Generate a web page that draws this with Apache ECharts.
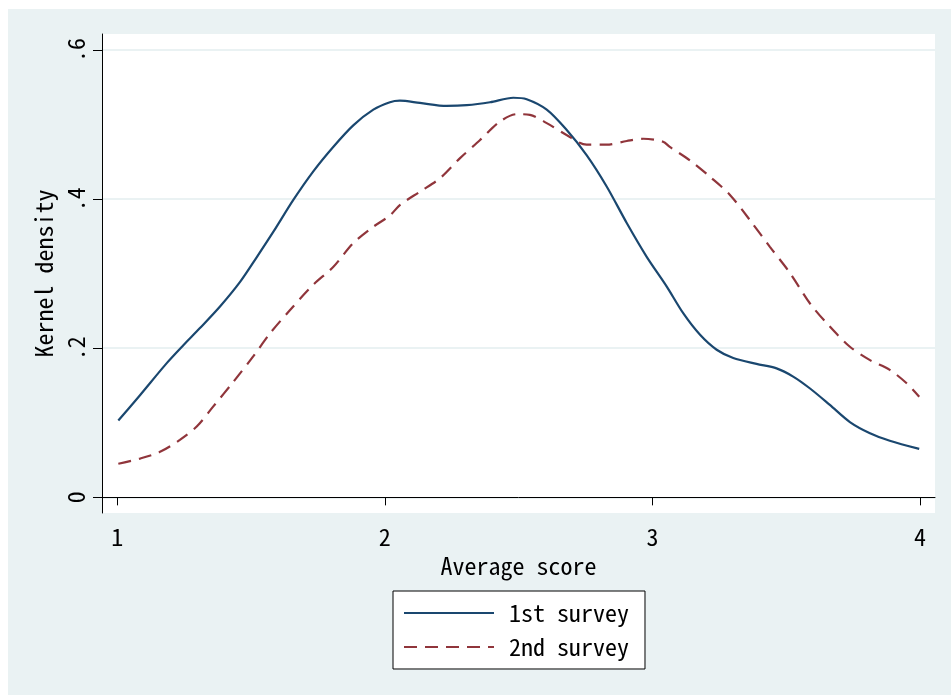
<!DOCTYPE html>
<html>
<head>
<meta charset="utf-8">
<script src="https://cdn.jsdelivr.net/npm/echarts@6/dist/echarts.min.js"></script>
<style>
html,body{margin:0;padding:0;background:#fff;}
#c{width:951px;height:695px;}
</style>
</head>
<body>
<div id="c"></div>
<script>
// Average score positions (x) and kernel density values (y)
var survey1X = [1.004,1.085,1.185,1.247,1.309,1.384,1.459,1.521,1.583,1.658,1.732,1.807,1.882,1.957,2.019,2.056,2.131,2.231,2.306,2.393,2.480,2.530,2.605,2.679,2.754,2.829,2.904,2.978,3.053,3.115,3.178,3.240,3.302,3.389,3.464,3.526,3.589,3.663,3.738,3.813,3.887,3.997];
var survey1Y = [0.103,0.137,0.180,0.204,0.227,0.256,0.289,0.322,0.356,0.399,0.437,0.470,0.499,0.520,0.530,0.532,0.529,0.525,0.526,0.530,0.536,0.534,0.520,0.493,0.459,0.417,0.368,0.323,0.283,0.247,0.218,0.198,0.187,0.179,0.173,0.162,0.146,0.124,0.101,0.086,0.076,0.065];
var survey2X = [1.004,1.085,1.160,1.234,1.297,1.359,1.434,1.508,1.571,1.645,1.732,1.807,1.882,1.957,2.019,2.056,2.131,2.206,2.281,2.355,2.430,2.493,2.542,2.605,2.679,2.754,2.829,2.904,2.966,3.040,3.065,3.140,3.215,3.289,3.364,3.439,3.514,3.589,3.663,3.738,3.813,3.887,3.950,3.997];
var survey2Y = [0.045,0.052,0.061,0.077,0.095,0.122,0.155,0.189,0.220,0.251,0.285,0.309,0.341,0.363,0.378,0.392,0.410,0.428,0.455,0.479,0.504,0.514,0.513,0.502,0.486,0.473,0.473,0.478,0.481,0.477,0.470,0.452,0.430,0.406,0.372,0.336,0.301,0.260,0.229,0.202,0.184,0.171,0.153,0.135];
var seriesNames = ['1st survey','2nd survey'];
var xTicks = [1,2,3,4];
var yTicks = [0,0.2,0.4,0.6];
var xTitle = 'Average score';
var yTitle = 'Kernel density';

function pairs(xs, ys){ return xs.map(function(x,i){ return [x, ys[i]]; }); }

var FONT = '"Noto Sans Mono CJK JP","DejaVu Sans Mono",monospace';
var chart = echarts.init(document.getElementById('c'), null, {renderer:'canvas'});
chart.setOption({
  animation:false,
  backgroundColor:'#ffffff',
  graphic:[{type:'rect', z:-10, silent:true, shape:{x:8,y:9,width:943,height:686}, style:{fill:'#eaf2f3'}}],
  grid:{left:102, top:34, right:16, bottom:182, show:true, backgroundColor:'#ffffff', borderWidth:0, containLabel:false},
  xAxis:{
    type:'value', min:0.943, max:4.056,
    name:xTitle, nameLocation:'middle', nameGap:41,
    nameTextStyle:{fontFamily:FONT, fontSize:24, color:'#000'},
    axisLine:{show:true, lineStyle:{color:'#000', width:1}},
    axisTick:{show:true, length:8, customValues:xTicks, lineStyle:{color:'#000'}},
    axisLabel:{customValues:xTicks, margin:12, fontFamily:FONT, fontSize:24, color:'#000'},
    splitLine:{show:false}
  },
  yAxis:{
    type:'value', min:-0.021, max:0.6215,
    name:yTitle, nameLocation:'middle', nameGap:43,
    nameTextStyle:{fontFamily:FONT, fontSize:24, color:'#000'},
    axisLine:{show:true, lineStyle:{color:'#000', width:1}},
    axisTick:{show:true, length:9, customValues:yTicks, lineStyle:{color:'#000'}},
    axisLabel:{customValues:yTicks, rotate:90, margin:14, fontFamily:FONT, fontSize:24, color:'#000',
      formatter:function(v){ return v===0 ? '0' : String(+v.toFixed(1)).replace(/^0\./,'.'); }},
    splitLine:{show:true, lineStyle:{color:'#eaf2f3', width:2}}
  },
  legend:{
    orient:'vertical', left:393, top:591,
    padding:[10,16,10,10], itemWidth:90, itemHeight:14, itemGap:10,
    borderColor:'#000', borderWidth:1, backgroundColor:'#fff',
    itemStyle:{opacity:0},
    textStyle:{fontFamily:FONT, fontSize:24, color:'#000', padding:[0,0,0,10]},
    data:seriesNames
  },
  series:[
    {name:seriesNames[0], type:'line', symbol:'none', smooth:0.3, data:pairs(survey1X, survey1Y),
     lineStyle:{color:'#1a476f', width:2.2}, itemStyle:{color:'#1a476f'}},
    {name:seriesNames[1], type:'line', symbol:'none', smooth:0.3, data:pairs(survey2X, survey2Y),
     lineStyle:{color:'#90353b', width:2.2, type:[13,8]}, itemStyle:{color:'#90353b'}}
  ]
});
</script>
</body>
</html>
